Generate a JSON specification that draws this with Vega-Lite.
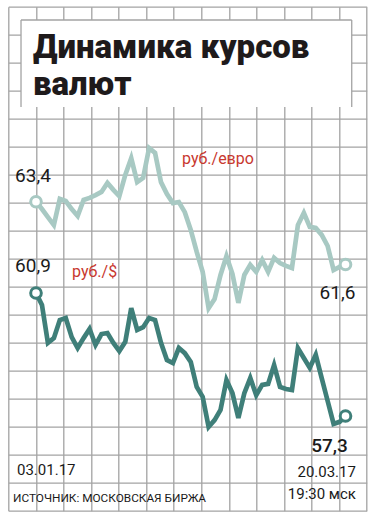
{
  "$schema": "https://vega.github.io/schema/vega-lite/v6.json",
  "width": 358.4,
  "height": 504,
  "autosize": {"type": "none"},
  "padding": {"left": 8.3, "top": 6.7, "right": 10.3, "bottom": 11.3},
  "background": "white",
  "config": {
    "view": {"stroke": null},
    "locale": {"number": {"decimal": ",", "thousands": " ", "grouping": [3], "currency": ["", " ₽"]}}
  },
  "datasets": {
    "fx": [
      {"n": 0, "eur": 63.40, "usd": 60.90},
      {"n": 1, "eur": 63.19, "usd": 60.55},
      {"n": 2, "eur": 62.96, "usd": 59.44},
      {"n": 3, "eur": 62.73, "usd": 59.58},
      {"n": 4, "eur": 63.48, "usd": 60.11},
      {"n": 5, "eur": 63.42, "usd": 60.17},
      {"n": 6, "eur": 63.19, "usd": 59.61},
      {"n": 7, "eur": 62.99, "usd": 59.29},
      {"n": 8, "eur": 63.45, "usd": 59.58},
      {"n": 9, "eur": 63.51, "usd": 59.85},
      {"n": 10, "eur": 63.59, "usd": 59.38},
      {"n": 11, "eur": 63.68, "usd": 59.70},
      {"n": 12, "eur": 63.94, "usd": 59.73},
      {"n": 13, "eur": 63.74, "usd": 59.44},
      {"n": 14, "eur": 63.56, "usd": 59.20},
      {"n": 15, "eur": 64.17, "usd": 59.47},
      {"n": 16, "eur": 64.65, "usd": 60.46},
      {"n": 17, "eur": 63.96, "usd": 59.82},
      {"n": 18, "eur": 64.08, "usd": 59.90},
      {"n": 19, "eur": 64.94, "usd": 60.17},
      {"n": 20, "eur": 64.80, "usd": 60.11},
      {"n": 21, "eur": 63.96, "usd": 59.44},
      {"n": 22, "eur": 63.62, "usd": 58.94},
      {"n": 23, "eur": 63.36, "usd": 58.85},
      {"n": 24, "eur": 63.39, "usd": 59.29},
      {"n": 25, "eur": 63.10, "usd": 59.14},
      {"n": 26, "eur": 62.59, "usd": 58.88},
      {"n": 27, "eur": 61.96, "usd": 58.15},
      {"n": 28, "eur": 61.39, "usd": 57.86},
      {"n": 29, "eur": 60.35, "usd": 56.98},
      {"n": 30, "eur": 60.61, "usd": 57.18},
      {"n": 31, "eur": 61.30, "usd": 57.48},
      {"n": 32, "eur": 61.84, "usd": 58.35},
      {"n": 33, "eur": 61.33, "usd": 57.97},
      {"n": 34, "eur": 60.50, "usd": 57.24},
      {"n": 35, "eur": 61.30, "usd": 57.97},
      {"n": 36, "eur": 61.59, "usd": 58.41},
      {"n": 37, "eur": 61.39, "usd": 57.91},
      {"n": 38, "eur": 61.73, "usd": 58.21},
      {"n": 39, "eur": 61.39, "usd": 58.24},
      {"n": 40, "eur": 61.79, "usd": 58.79},
      {"n": 41, "eur": 61.64, "usd": 58.15},
      {"n": 42, "eur": 61.56, "usd": 58.09},
      {"n": 43, "eur": 61.50, "usd": 58.06},
      {"n": 44, "eur": 62.73, "usd": 59.29},
      {"n": 45, "eur": 63.08, "usd": 59.00},
      {"n": 46, "eur": 62.68, "usd": 58.71},
      {"n": 47, "eur": 62.65, "usd": 59.09},
      {"n": 48, "eur": 62.45, "usd": 58.41},
      {"n": 49, "eur": 62.13, "usd": 57.74},
      {"n": 50, "eur": 61.44, "usd": 57.07},
      {"n": 51, "eur": 61.53, "usd": 57.13},
      {"n": 52, "eur": 61.60, "usd": 57.30}
    ]
  },
  "layer": [
    {
      "data": {"values": [{"gx": 0, "gy": 0}]},
      "mark": {"type": "point", "opacity": 0},
      "encoding": {
        "x": {"field": "gx", "type": "quantitative", "scale": {"domain": [0, 13], "nice": false, "zero": false},
          "axis": {"values": [0,1,2,3,4,5,6,7,8,9,10,11,12,13], "title": null, "grid": true, "gridColor": "#a3a3a3", "gridWidth": 1.3, "labels": false, "ticks": false, "domain": false}},
        "y": {"field": "gy", "type": "quantitative", "scale": {"domain": [0, 18], "reverse": true, "nice": false, "zero": false},
          "axis": {"values": [0,1,2,3,4,5,6,7,8,9,10,11,12,13,14,15,16,17,18], "title": null, "grid": true, "gridColor": "#a3a3a3", "gridWidth": 1.3, "labels": false, "ticks": false, "domain": false}}
      }
    },
    {
      "data": {"values": [{"gx": 0, "gy": 0}]},
      "layer": [
        {
          "mark": {"type": "point", "opacity": 0},
          "encoding": {
            "x": {"field": "gx", "type": "quantitative", "scale": {"domain": [0, 13], "nice": false, "zero": false}, "axis": null},
            "y": {"field": "gy", "type": "quantitative", "scale": {"domain": [0, 18], "reverse": true, "nice": false, "zero": false}, "axis": null}
          }
        },
        {
          "mark": {"type": "rect", "fill": "white"},
          "encoding": {"x": {"datum": 0.461, "axis": null}, "x2": {"datum": 12.457}, "y": {"datum": 0.475, "axis": null}, "y2": {"datum": 3.582}}
        },
        {
          "mark": {"type": "rule", "stroke": "#a3a3a3", "strokeWidth": 1.3},
          "encoding": {"x": {"datum": 0.461, "axis": null}, "y": {"datum": 0.475, "axis": null}, "y2": {"datum": 3.582}}
        },
        {
          "mark": {"type": "rule", "stroke": "#a3a3a3", "strokeWidth": 1.3},
          "encoding": {"x": {"datum": 12.457, "axis": null}, "y": {"datum": 0.475, "axis": null}, "y2": {"datum": 3.582}}
        },
        {
          "mark": {"type": "rule", "stroke": "#a3a3a3", "strokeWidth": 1.3},
          "encoding": {"x": {"datum": 0.461, "axis": null}, "x2": {"datum": 12.457}, "y": {"datum": 0.475, "axis": null}}
        },
        {
          "mark": {"type": "text", "text": "Динамика курсов", "align": "left", "baseline": "alphabetic", "font": "Roboto", "fontSize": 33, "fontWeight": 900, "color": "#1e1a1b"},
          "encoding": {"x": {"datum": 0.896, "axis": null}, "y": {"datum": 1.832, "axis": null}}
        },
        {
          "mark": {"type": "text", "text": "валют", "align": "left", "baseline": "alphabetic", "font": "Roboto", "fontSize": 33, "fontWeight": 900, "color": "#1e1a1b"},
          "encoding": {"x": {"datum": 0.896, "axis": null}, "y": {"datum": 3.154, "axis": null}}
        },
        {
          "mark": {"type": "text", "text": "руб./евро", "align": "left", "baseline": "alphabetic", "font": "Roboto", "fontSize": 16, "color": "#c8382f"},
          "encoding": {"x": {"datum": 6.3, "axis": null}, "y": {"datum": 5.6, "axis": null}}
        },
        {
          "mark": {"type": "text", "text": "руб./$", "align": "left", "baseline": "alphabetic", "font": "Roboto", "fontSize": 16, "color": "#c8382f"},
          "encoding": {"x": {"datum": 2.311, "axis": null}, "y": {"datum": 9.654, "axis": null}}
        },
        {
          "mark": {"type": "text", "text": "03.01.17", "align": "left", "baseline": "alphabetic", "font": "Roboto", "fontSize": 15, "color": "#1a1a1a"},
          "encoding": {"x": {"datum": 0.316, "axis": null}, "y": {"datum": 16.725, "axis": null}}
        },
        {
          "mark": {"type": "text", "text": "20.03.17", "align": "right", "baseline": "alphabetic", "font": "Roboto", "fontSize": 15, "color": "#1a1a1a"},
          "encoding": {"x": {"datum": 12.61, "axis": null}, "y": {"datum": 16.8, "axis": null}}
        },
        {
          "mark": {"type": "text", "text": "19:30 мск", "align": "right", "baseline": "alphabetic", "font": "Roboto", "fontSize": 15, "color": "#1a1a1a"},
          "encoding": {"x": {"datum": 12.61, "axis": null}, "y": {"datum": 17.58, "axis": null}}
        },
        {
          "mark": {"type": "text", "text": "ИСТОЧНИК: МОСКОВСКАЯ БИРЖА", "align": "left", "baseline": "alphabetic", "font": "Roboto", "fontSize": 11.8, "color": "#1a1a1a"},
          "encoding": {"x": {"datum": 0.17, "axis": null}, "y": {"datum": 17.69, "axis": null}}
        }
      ]
    },
    {
      "data": {"name": "fx"},
      "encoding": {
        "x": {"field": "n", "type": "quantitative", "scale": {"domain": [-4.654, 55.56], "nice": false, "zero": false}, "axis": null},
        "y": {"field": "eur", "type": "quantitative", "scale": {"domain": [54.544, 68.989], "nice": false, "zero": false}, "axis": null}
      },
      "layer": [
        {"mark": {"type": "line", "stroke": "#a8c9c3", "strokeWidth": 4.7}},
        {
          "transform": [{"filter": "datum.n == 0 || datum.n == 52"}],
          "mark": {"type": "point", "shape": "circle", "filled": true, "fill": "white", "stroke": "#a8c9c3", "strokeWidth": 3, "size": 113, "opacity": 1}
        },
        {
          "transform": [{"filter": "datum.n == 0"}],
          "mark": {"type": "text", "align": "center", "baseline": "alphabetic", "dx": -3, "dy": -20, "font": "Roboto", "fontSize": 19, "color": "#1a1a1a"},
          "encoding": {"text": {"field": "eur", "type": "quantitative", "format": ".1f"}}
        },
        {
          "transform": [{"filter": "datum.n == 52"}],
          "mark": {"type": "text", "align": "center", "baseline": "alphabetic", "dx": -8, "dy": 34, "font": "Roboto", "fontSize": 19, "color": "#1a1a1a"},
          "encoding": {"text": {"field": "eur", "type": "quantitative", "format": ".1f"}}
        }
      ]
    },
    {
      "data": {"name": "fx"},
      "encoding": {
        "x": {"field": "n", "type": "quantitative", "scale": {"domain": [-4.654, 55.56], "nice": false, "zero": false}, "axis": null},
        "y": {"field": "usd", "type": "quantitative", "scale": {"domain": [54.529, 69.279], "nice": false, "zero": false}, "axis": null}
      },
      "layer": [
        {"mark": {"type": "line", "stroke": "#3f7f79", "strokeWidth": 4.7}},
        {
          "transform": [{"filter": "datum.n == 0 || datum.n == 52"}],
          "mark": {"type": "point", "shape": "circle", "filled": true, "fill": "white", "stroke": "#3f7f79", "strokeWidth": 3, "size": 113, "opacity": 1}
        },
        {
          "transform": [{"filter": "datum.n == 0"}],
          "mark": {"type": "text", "align": "center", "baseline": "alphabetic", "dx": -3, "dy": -21, "font": "Roboto", "fontSize": 19, "color": "#1a1a1a"},
          "encoding": {"text": {"field": "usd", "type": "quantitative", "format": ".1f"}}
        },
        {
          "transform": [{"filter": "datum.n == 52"}],
          "mark": {"type": "text", "align": "center", "baseline": "alphabetic", "dx": -16, "dy": 36, "font": "Roboto", "fontSize": 19, "fontWeight": 500, "color": "#1a1a1a"},
          "encoding": {"text": {"field": "usd", "type": "quantitative", "format": ".1f"}}
        }
      ]
    }
  ],
  "resolve": {"scale": {"x": "independent", "y": "independent"}}
}
